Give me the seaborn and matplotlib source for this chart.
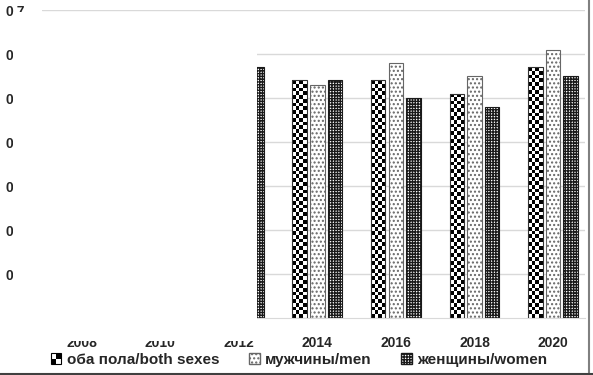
import numpy as np
import pandas as pd
import seaborn as sns
import matplotlib.pyplot as plt
from matplotlib.patches import Rectangle, Patch
from matplotlib.lines import Line2D
from matplotlib.legend_handler import HandlerBase

#######################################################################
# Data (hidden ones left as NaN)
#######################################################################

years = ["2008", "2010", "2012", "2014", "2016", "2018", "2020"]
both_sexes = [np.nan, np.nan, np.nan, 0.54, 0.54, 0.51, 0.57]
men = [np.nan, np.nan, np.nan, 0.53, 0.58, 0.55, 0.61]
women = [np.nan, np.nan, 0.57, 0.54, 0.50, 0.48, 0.55]

series_names = ["оба пола/both sexes", "мужчины/men", "женщины/women"]
y_ticks = [0.1, 0.2, 0.3, 0.4, 0.5, 0.6, 0.7]

df = pd.DataFrame({
    "year": years * 3,
    "group": [series_names[0]] * 7 + [series_names[1]] * 7 + [series_names[2]] * 7,
    "value": both_sexes + men + women,
}).dropna()

#######################################################################
# Style
#######################################################################

sns.set_style("white")
plt.rcParams["font.family"] = ["Liberation Sans", "DejaVu Sans"]
plt.rcParams["font.weight"] = "bold"
plt.rcParams["hatch.linewidth"] = 1.0

MEN_HATCH = "...."
WOMEN_HATCH = "++++++"

fig = plt.figure(figsize=(5.93, 3.75), dpi=100)
ax = fig.add_axes([42.2 / 593, 57 / 375, (584.5 - 42.2) / 593, 308 / 375])

sns.barplot(
    data=df, x="year", y="value", hue="group",
    order=years, hue_order=series_names,
    palette=["white", "white", "white"],
    width=0.675, gap=0.18, edgecolor="#333333", linewidth=0.8,
    legend=False, ax=ax,
)

# men: sparse dots, women: dense dark grid
for bar in ax.containers[1]:
    bar.set_hatch(MEN_HATCH)
    bar.set_edgecolor("#666666")
for bar in ax.containers[2]:
    bar.set_hatch(WOMEN_HATCH)
    bar.set_edgecolor("#1a1a1a")

# both sexes: checkerboard drawn inside each bar
px_per_unit = 308 / 0.7
for bar in ax.containers[0]:
    bar.set_facecolor("none")
    bar.set_zorder(3)
    x0 = bar.get_x()
    w = bar.get_width()
    h = bar.get_height()
    rows = max(1, int(round(h * px_per_unit / 3.8)))
    board = np.indices((rows, 4)).sum(axis=0) % 2
    im = ax.imshow(board, cmap="gray", extent=(x0, x0 + w, 0, h),
                   aspect="auto", interpolation="nearest", zorder=2)
    im.set_clip_path(bar)

ax.set_xlim(-0.5, 6.4)
ax.set_ylim(0, 0.7)
ax.set_yticks(y_ticks)
ax.set_yticklabels([f"{t:.1f}" for t in y_ticks])
ax.yaxis.grid(True, color="#d9d9d9", linewidth=1)
ax.set_axisbelow(True)
ax.set_xlabel("")
ax.set_ylabel("")
for side in ["top", "left", "right"]:
    ax.spines[side].set_visible(False)
ax.spines["bottom"].set_color("#d9d9d9")
ax.tick_params(axis="y", length=0, pad=12.5, labelsize=10)
ax.tick_params(axis="x", length=0, pad=13, labelsize=10)

#######################################################################
# Legend
#######################################################################

class CheckerHandler(HandlerBase):
    def create_artists(self, legend, orig_handle, xdescent, ydescent,
                       width, height, fontsize, trans):
        artists = []
        hw, hh = width / 2, height / 2
        for i in range(2):
            for j in range(2):
                color = "black" if (i + j) % 2 == 0 else "white"
                artists.append(Rectangle((-xdescent + i * hw, -ydescent + j * hh), hw, hh,
                                         facecolor=color, edgecolor="none", transform=trans))
        artists.append(Rectangle((-xdescent, -ydescent), width, height, facecolor="none",
                                 edgecolor="black", linewidth=0.8, transform=trans))
        return artists

handles = [
    Patch(facecolor="white", edgecolor="black"),
    Patch(facecolor="white", edgecolor="#666666", hatch=MEN_HATCH),
    Patch(facecolor="white", edgecolor="#1a1a1a", hatch=WOMEN_HATCH),
]
fig.legend(handles, series_names, loc="center", bbox_to_anchor=(299 / 593, 1 - 360 / 375),
           ncol=3, frameon=False, fontsize=11, handlelength=0.7, handleheight=0.7,
           handletextpad=0.35, columnspacing=1.95,
           handler_map={handles[0]: CheckerHandler()})

#######################################################################
# White mask over the left part and the outer frame
#######################################################################

fig.add_artist(Rectangle((13 / 593, 1 - 341 / 375), (257 - 13) / 593, (341 - 11.5) / 375,
                         transform=fig.transFigure, facecolor="white", edgecolor="none", zorder=10))
fig.add_artist(Line2D([589 / 593, 589 / 593], [0, 1], transform=fig.transFigure,
                      color="#808080", linewidth=1.5, zorder=11))
fig.add_artist(Line2D([0, 1], [1 / 375, 1 / 375], transform=fig.transFigure,
                      color="#404040", linewidth=1.5, zorder=11))

plt.savefig("out.png", dpi=100)
